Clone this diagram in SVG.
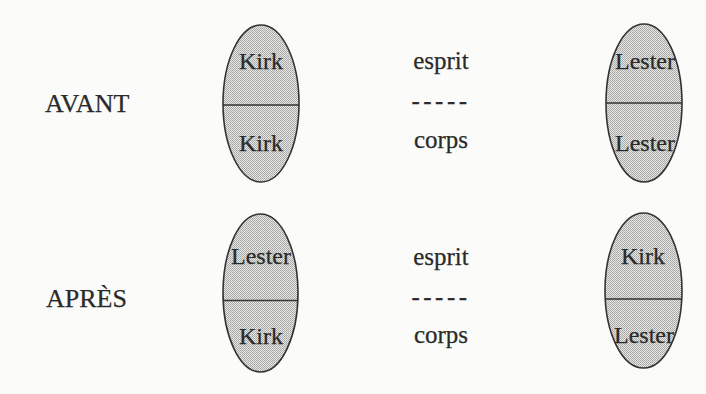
<svg xmlns="http://www.w3.org/2000/svg" width="706" height="394" viewBox="0 0 706 394">
  <defs>
    <!-- fine halftone screen used to shade the ovals -->
    <pattern id="screen" width="2" height="2" patternUnits="userSpaceOnUse">
      <rect width="2" height="2" fill="#e6e6e4"/>
      <rect width="1" height="1" fill="#a4a4a2"/>
      <rect x="1" y="1" width="1" height="1" fill="#b0b0ae"/>
    </pattern>
  </defs>
  <style>
    text { font-family: "Liberation Serif", "Times New Roman", serif; fill: #2a2a2a; stroke: #2a2a2a; stroke-width: 0.25; }
    .name { font-size: 24px; text-anchor: middle; }
    .side { font-size: 26px; }
    .mid { font-size: 25px; text-anchor: middle; }
    .oval { fill: url(#screen); stroke: #333; stroke-width: 1.6; }
    .split { stroke: #333; stroke-width: 1.6; }
  </style>

  <rect width="706" height="394" fill="#fbfbf9"/>

  <!-- row labels -->
  <g id="avant"><text class="side" x="45" y="112">AVANT</text></g>
  <g id="apres"><text class="side" x="46" y="307">APRÈS</text></g>

  <!-- legend: mind over body -->
  <g id="legend-avant">
    <text class="mid" x="441" y="69">esprit</text>
    <text class="mid" x="441" y="109" letter-spacing="3.5">-----</text>
    <text class="mid" x="441" y="148">corps</text>
  </g>
  <g id="legend-apres">
    <text class="mid" x="441" y="265">esprit</text>
    <text class="mid" x="441" y="305" letter-spacing="3.5">-----</text>
    <text class="mid" x="441" y="343">corps</text>
  </g>

  <!-- persons before the swap -->
  <g id="avant-kirk">
    <ellipse class="oval" cx="261" cy="103.5" rx="38" ry="78.5"/>
    <line class="split" x1="223" y1="105" x2="299" y2="105"/>
    <text class="name" x="261" y="69">Kirk</text>
    <text class="name" x="261" y="151">Kirk</text>
  </g>
  <g id="avant-lester">
    <ellipse class="oval" cx="644" cy="103" rx="38" ry="79"/>
    <line class="split" x1="606" y1="103" x2="682" y2="103"/>
    <text class="name" x="645" y="69">Lester</text>
    <text class="name" x="645" y="151">Lester</text>
  </g>

  <!-- persons after the swap -->
  <g id="apres-kirk">
    <ellipse class="oval" cx="260.5" cy="293" rx="37.5" ry="79"/>
    <line class="split" x1="223" y1="300.5" x2="298" y2="300.5"/>
    <text class="name" x="261" y="264">Lester</text>
    <text class="name" x="261" y="344">Kirk</text>
  </g>
  <g id="apres-lester">
    <ellipse class="oval" cx="643.5" cy="290.5" rx="38.5" ry="77.5"/>
    <line class="split" x1="605" y1="299" x2="682" y2="299"/>
    <text class="name" x="643" y="264">Kirk</text>
    <text class="name" x="644" y="343">Lester</text>
  </g>
</svg>
